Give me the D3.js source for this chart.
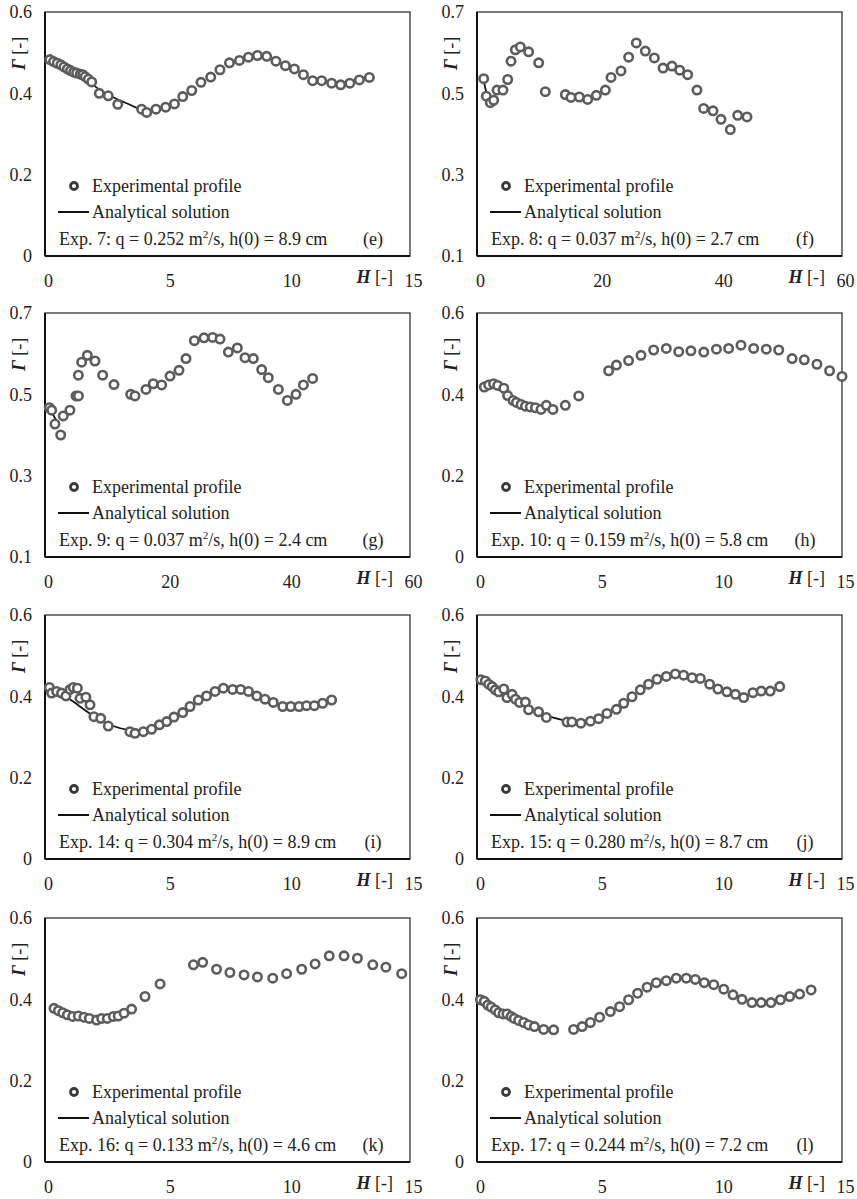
<!DOCTYPE html>
<html>
<head>
<meta charset="utf-8">
<script src="https://cdn.jsdelivr.net/npm/d3@7"></script>
<style>
  body { margin: 0; background: #fff; }
  svg { display: block; font-family: "Liberation Serif", "Times New Roman", serif; }
</style>
</head>
<body>
<svg id="chart" width="857" height="1199"></svg>
<script>
// panel tags, experiment info
const panelTags = ['(e)', '(f)', '(g)', '(h)', '(i)', '(j)', '(k)', '(l)']
const expNos = [7, 8, 9, 10, 14, 15, 16, 17]
const qValues = ['0.252', '0.037', '0.037', '0.159', '0.304', '0.280', '0.133', '0.244']
const h0Values = ['8.9', '2.7', '2.4', '5.8', '8.9', '8.7', '4.6', '7.2']

const xMaxes = [15, 60, 60, 15, 15, 15, 15, 15]
const xTicks15 = [0, 5, 10, 15]
const xTicks60 = [0, 20, 40, 60]
const yTicksA = [0, 0.2, 0.4, 0.6]
const yTicksB = [0.1, 0.3, 0.5, 0.7]

// experimental profiles [H, Gamma]
const expE = [[0.2,0.483],[0.35,0.478],[0.5,0.474],[0.65,0.47],[0.78,0.465],[0.92,0.46],[1.05,0.456],[1.18,0.452],[1.3,0.45],[1.45,0.447],[1.55,0.446],[1.65,0.441],[1.78,0.435],[1.92,0.428],
  [2.23,0.40],[2.6,0.394],[2.99,0.373],[3.97,0.361],[4.18,0.353],[4.56,0.361],[4.96,0.366],[5.32,0.374],[5.66,0.392],[6.03,0.407],[6.41,0.427],[6.81,0.44],[7.19,0.458],[7.58,0.475],[7.99,0.481],[8.36,0.489],[8.73,0.493],[9.11,0.491],[9.49,0.479],[9.88,0.468],[10.25,0.46],[10.62,0.446],[11.0,0.431],[11.37,0.431],[11.78,0.425],[12.15,0.421],[12.53,0.425],[12.92,0.433],[13.33,0.439]]
const expF = [[1.1,0.536],[1.53,0.493],[2.19,0.477],[2.74,0.483],[3.29,0.508],[4.27,0.508],[5.04,0.534],[5.59,0.579],[6.3,0.607],[7.12,0.614],[8.49,0.602],[10.14,0.575],[11.23,0.504],[14.52,0.497],[15.45,0.49],[16.82,0.491],[18.19,0.485],[19.62,0.495],[21.1,0.508],[22.03,0.539],[23.67,0.555],[24.93,0.589],[26.19,0.624],[27.67,0.604],[29.15,0.587],[30.58,0.562],[32.05,0.567],[33.32,0.557],[34.63,0.546],[36.16,0.508],[37.26,0.463],[38.8,0.457],[40.11,0.436],[41.64,0.411],[42.85,0.446],[44.38,0.442]]
const expG = [[0.71,0.467],[1.1,0.461],[1.64,0.427],[2.58,0.40],[3.0,0.447],[4.1,0.461],[5.1,0.496],[5.5,0.496],[5.48,0.547],[6.03,0.579],[6.96,0.596],[8.22,0.582],[9.48,0.547],[11.34,0.524],[14.08,0.50],[14.79,0.496],[16.6,0.512],[17.8,0.526],[19.18,0.523],[20.55,0.545],[22.03,0.559],[23.18,0.588],[24.55,0.632],[26.14,0.639],[27.56,0.64],[28.77,0.636],[30.14,0.604],[31.62,0.614],[32.88,0.59],[34.25,0.588],[35.62,0.561],[36.71,0.541],[38.36,0.512],[39.84,0.485],[41.26,0.50],[42.47,0.523],[44.0,0.539]]
const expH = [[0.3,0.418],[0.48,0.423],[0.68,0.426],[0.85,0.422],[1.1,0.415],[1.26,0.397],[1.48,0.385],[1.62,0.38],[1.81,0.375],[1.99,0.371],[2.19,0.369],[2.4,0.367],[2.63,0.363],[2.85,0.373],[3.12,0.363],[3.63,0.373],[4.18,0.396],[5.41,0.458],[5.73,0.472],[6.23,0.483],[6.74,0.496],[7.26,0.509],[7.78,0.513],[8.29,0.505],[8.79,0.507],[9.32,0.504],[9.84,0.511],[10.34,0.513],[10.85,0.521],[11.37,0.513],[11.89,0.511],[12.4,0.509],[12.95,0.488],[13.45,0.485],[13.97,0.474],[14.49,0.458],[15.0,0.444]]
const expI = [[0.18,0.422],[0.27,0.408],[0.48,0.412],[0.68,0.408],[0.86,0.401],[1.03,0.417],[1.16,0.422],[1.33,0.42],[1.44,0.395],[1.68,0.398],[1.85,0.379],[2.01,0.35],[2.29,0.346],[2.6,0.327],[3.49,0.313],[3.7,0.309],[4.04,0.313],[4.38,0.319],[4.7,0.33],[5.0,0.338],[5.3,0.349],[5.66,0.36],[5.96,0.375],[6.3,0.391],[6.64,0.401],[6.99,0.412],[7.33,0.42],[7.71,0.417],[8.04,0.417],[8.36,0.412],[8.7,0.401],[9.04,0.393],[9.38,0.385],[9.77,0.375],[10.1,0.375],[10.44,0.375],[10.75,0.377],[11.07,0.377],[11.41,0.383],[11.78,0.391]]
const expJ = [[0.16,0.441],[0.34,0.438],[0.48,0.43],[0.62,0.424],[0.75,0.416],[0.89,0.411],[1.1,0.418],[1.23,0.397],[1.44,0.405],[1.58,0.393],[1.75,0.385],[1.99,0.386],[2.12,0.367],[2.53,0.362],[2.85,0.348],[3.7,0.337],[3.9,0.337],[4.27,0.334],[4.66,0.339],[5.0,0.345],[5.34,0.358],[5.73,0.368],[6.03,0.383],[6.37,0.399],[6.71,0.416],[7.05,0.43],[7.4,0.442],[7.78,0.449],[8.15,0.455],[8.49,0.452],[8.84,0.446],[9.18,0.444],[9.56,0.43],[9.9,0.418],[10.27,0.411],[10.62,0.405],[10.96,0.397],[11.34,0.409],[11.68,0.413],[12.05,0.413],[12.44,0.424]]
const expK = [[0.37,0.378],[0.55,0.372],[0.73,0.367],[0.92,0.362],[1.14,0.358],[1.37,0.359],[1.6,0.356],[1.82,0.353],[2.12,0.349],[2.33,0.353],[2.56,0.353],[2.81,0.358],[3.01,0.359],[3.25,0.366],[3.56,0.376],[4.11,0.407],[4.73,0.438],[6.1,0.485],[6.48,0.491],[7.05,0.474],[7.6,0.466],[8.18,0.46],[8.73,0.455],[9.36,0.452],[9.93,0.463],[10.55,0.474],[11.1,0.487],[11.68,0.507],[12.29,0.507],[12.84,0.501],[13.47,0.485],[14.01,0.479],[14.66,0.463]]
const expL = [[0.14,0.399],[0.3,0.395],[0.44,0.386],[0.58,0.381],[0.75,0.374],[0.89,0.367],[1.07,0.364],[1.23,0.364],[1.4,0.358],[1.53,0.353],[1.71,0.348],[1.92,0.343],[2.12,0.337],[2.36,0.333],[2.74,0.326],[3.15,0.325],[3.97,0.326],[4.32,0.333],[4.66,0.343],[5.04,0.356],[5.48,0.37],[5.86,0.382],[6.23,0.399],[6.6,0.415],[6.99,0.43],[7.37,0.441],[7.78,0.446],[8.19,0.452],[8.6,0.452],[8.97,0.449],[9.34,0.441],[9.73,0.436],[10.14,0.425],[10.52,0.411],[10.89,0.40],[11.3,0.392],[11.68,0.392],[12.08,0.392],[12.47,0.399],[12.85,0.407],[13.26,0.413],[13.73,0.423]]

// analytical solutions [H, Gamma]
const anaE = [[0.1,0.484],[0.9,0.46],[1.5,0.441],[2.25,0.409],[2.95,0.386],[3.6,0.369],[4.2,0.351]]
const anaF = [[1.0,0.54],[1.5,0.505],[2.0,0.485],[2.5,0.476]]
const anaG = [[0.3,0.473],[1.0,0.46],[1.7,0.44],[2.4,0.428]]
const anaH = [[0.2,0.428],[0.8,0.415],[1.4,0.392],[2.0,0.375],[2.6,0.366],[3.0,0.364]]
const anaI = [[0.1,0.422],[0.9,0.397],[2.0,0.352],[2.8,0.327],[3.5,0.316]]
const anaJ = [[0.1,0.443],[1.0,0.412],[2.0,0.377],[3.0,0.35],[3.9,0.337]]
const anaK = [[0.3,0.378],[0.9,0.366],[1.5,0.355],[2.15,0.345]]
const anaL = [[0.1,0.40],[0.8,0.378],[1.5,0.356],[2.2,0.338],[2.6,0.33]]

const expSeries = [expE, expF, expG, expH, expI, expJ, expK, expL]
const anaSeries = [anaE, anaF, anaG, anaH, anaI, anaJ, anaK, anaL]

const svg = d3.select('#chart')
svg.append('rect').attr('width', 857).attr('height', 1199).attr('fill', '#fff')

const colLeft = [45, 477]
const rowTop = [12, 313, 615, 918]
const boxW = 365
const boxH = 244
const fs = 18

panelTags.forEach((tag, i) => {
  const left = colLeft[i % 2]
  const top = rowTop[Math.floor(i / 2)]
  const wide = xMaxes[i] === 60
  const yTicks = wide ? yTicksB : yTicksA

  const x = d3.scaleLinear().domain([0, xMaxes[i]]).range([0, boxW])
  const y = d3.scaleLinear().domain([yTicks[0], yTicks[3]]).range([boxH, 0])

  const g = svg.append('g').attr('transform', `translate(${left},${top})`)

  // axes (labels only, Excel style)
  const xAxis = g.append('g')
    .attr('transform', `translate(0,${boxH})`)
    .call(d3.axisBottom(x).tickValues(wide ? xTicks60 : xTicks15).tickSize(0).tickPadding(18).tickFormat(d3.format('d')))
  xAxis.select('.domain').remove()
  xAxis.selectAll('text').attr('font-size', fs).attr('fill', '#222').attr('dx', 3)
    .attr('font-family', '"Liberation Serif", "Times New Roman", serif')

  const yAxis = g.append('g')
    .call(d3.axisLeft(y).tickValues(yTicks).tickSize(0).tickPadding(13).tickFormat(d => d === 0 ? '0' : d.toFixed(1)))
  yAxis.select('.domain').remove()
  yAxis.selectAll('text').attr('font-size', fs).attr('fill', '#222')
    .attr('font-family', '"Liberation Serif", "Times New Roman", serif')

  // plot box
  g.append('rect').attr('width', boxW).attr('height', boxH)
    .attr('fill', 'none').attr('stroke', '#222').attr('stroke-width', 1.2)
  g.append('line').attr('x1', 0).attr('x2', 0).attr('y1', 0).attr('y2', boxH)
    .attr('stroke', '#111').attr('stroke-width', 2)
  g.append('line').attr('x1', 0).attr('x2', boxW).attr('y1', boxH).attr('y2', boxH)
    .attr('stroke', '#111').attr('stroke-width', 2)

  // analytical line
  g.append('path')
    .datum(anaSeries[i])
    .attr('d', d3.line().x(d => x(d[0])).y(d => y(d[1])).curve(d3.curveMonotoneX))
    .attr('fill', 'none').attr('stroke', '#111').attr('stroke-width', 1.8)

  // experimental markers
  g.selectAll('circle.pt')
    .data(expSeries[i])
    .enter()
    .append('circle')
    .attr('class', 'pt')
    .attr('cx', d => x(d[0]))
    .attr('cy', d => y(d[1]))
    .attr('r', 4.2)
    .attr('fill', '#fff')
    .attr('stroke', '#5c5c5c')
    .attr('stroke-width', 2.6)

  // legend
  g.append('circle').attr('cx', 29).attr('cy', boxH - 70).attr('r', 3.5)
    .attr('fill', '#fff').attr('stroke', '#3a3a3a').attr('stroke-width', 2.8)
  g.append('text').attr('x', 47).attr('y', boxH - 64).attr('font-size', fs).attr('fill', '#222')
    .text('Experimental profile')
  g.append('line').attr('x1', 13).attr('x2', 44).attr('y1', boxH - 44).attr('y2', boxH - 44)
    .attr('stroke', '#111').attr('stroke-width', 2)
  g.append('text').attr('x', 47).attr('y', boxH - 38).attr('font-size', fs).attr('fill', '#222')
    .text('Analytical solution')

  const info = g.append('text').attr('x', 14).attr('y', boxH - 11).attr('font-size', fs).attr('fill', '#222')
  info.append('tspan').text(`Exp. ${expNos[i]}: q = ${qValues[i]} m`)
  info.append('tspan').attr('font-size', fs * 0.62).attr('dy', -7).text('2')
  info.append('tspan').attr('dy', 7).text(`/s, h(0) = ${h0Values[i]} cm`)

  g.append('text').attr('x', boxW - 37).attr('y', boxH - 11).attr('text-anchor', 'middle')
    .attr('font-size', fs).attr('fill', '#222').text(tag)

  // axis titles
  const hLab = g.append('text').attr('x', boxW - 17).attr('y', boxH + 27).attr('text-anchor', 'end')
    .attr('font-size', fs).attr('fill', '#222')
  hLab.append('tspan').attr('font-weight', 'bold').attr('font-style', 'italic').text('H')
  hLab.append('tspan').text(' [-]')

  const gLab = g.append('text').attr('transform', `translate(${-20},${58}) rotate(-90)`)
    .attr('font-size', fs).attr('fill', '#222')
  gLab.append('tspan').attr('font-weight', 'bold').attr('font-style', 'italic').text('Γ')
  gLab.append('tspan').text(' [-]')
})
</script>
</body>
</html>
